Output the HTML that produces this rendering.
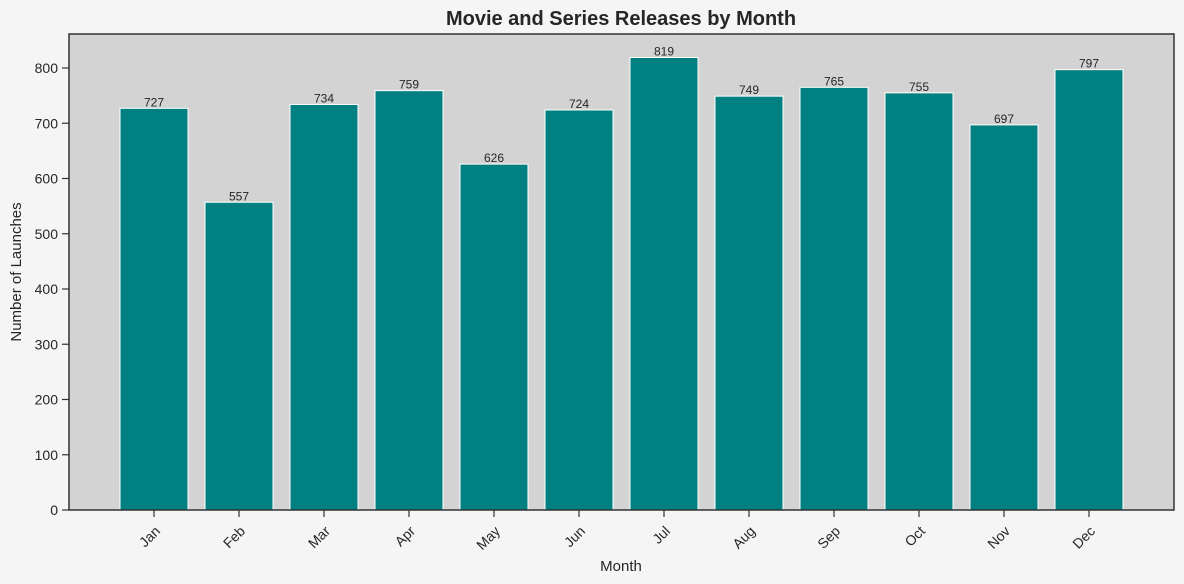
<!DOCTYPE html>
<html><head><meta charset="utf-8"><style>
body{margin:0;background:#f5f5f5;}
svg{display:block;font-family:"Liberation Sans",sans-serif;}
</style></head><body>
<svg id="chart" width="1184" height="584" viewBox="0 0 1184 584">
<rect width="1184" height="584" fill="#f5f5f5"/>
<rect x="69" y="34" width="1105" height="476" fill="#d3d3d3"/>
<g id="bars"></g>
<g id="axes"></g>
<rect x="69" y="34" width="1105" height="476" fill="none" stroke="#333" stroke-width="1.5"/>
<text x="621" y="25" text-anchor="middle" font-size="20" font-weight="bold" fill="#262626">Movie and Series Releases by Month</text>
<text x="621" y="571" text-anchor="middle" font-size="15" fill="#262626">Month</text>
<text transform="translate(21,272) rotate(-90)" text-anchor="middle" font-size="15" fill="#262626">Number of Launches</text>
</svg>
<script>
const months=["Jan","Feb","Mar","Apr","May","Jun","Jul","Aug","Sep","Oct","Nov","Dec"];
const launches=[727,557,734,759,626,724,819,749,765,755,697,797];
const yTicks=[0,100,200,300,400,500,600,700,800];
const NS="http://www.w3.org/2000/svg";
const L=69,R=1174,T=34,B=510,YMAX=(B-T)/((510-68)/800);
const x=i=>L+(i+1)*(R-L)/13;
const y=v=>B-v*(B-T)/YMAX;
const bw=0.8*(R-L)/13;
function mk(t,a,p){const e=document.createElementNS(NS,t);for(const k in a)e.setAttribute(k,a[k]);p.appendChild(e);return e;}
const bars=document.getElementById('bars'),axes=document.getElementById('axes');
months.forEach((m,i)=>{
 const v=launches[i];
 const r=mk('rect',{x:x(i)-bw/2,y:y(v),width:bw,height:B-y(v),fill:'#008080',stroke:'#fff','stroke-width':1},bars);
 
 
 const t=mk('text',{x:x(i),y:y(v)-2,'text-anchor':'middle','font-size':12,fill:'#262626'},bars);t.textContent=v;
 
 
 mk('line',{x1:x(i),x2:x(i),y1:B,y2:B+7,stroke:'#333','stroke-width':1.2},axes);
 const lt=mk('text',{transform:`translate(${x(i)+7},${B+22}) rotate(-45)`,'text-anchor':'end','font-size':14,fill:'#262626'},axes);lt.textContent=m;
 
 
});
yTicks.forEach(v=>{
 mk('line',{x1:L-7,x2:L,y1:y(v),y2:y(v),stroke:'#333','stroke-width':1.2},axes);
 const t=mk('text',{x:L-11,y:y(v)+5,'text-anchor':'end','font-size':14,fill:'#262626'},axes);t.textContent=v;
 
 
});
</script>
</body></html>
